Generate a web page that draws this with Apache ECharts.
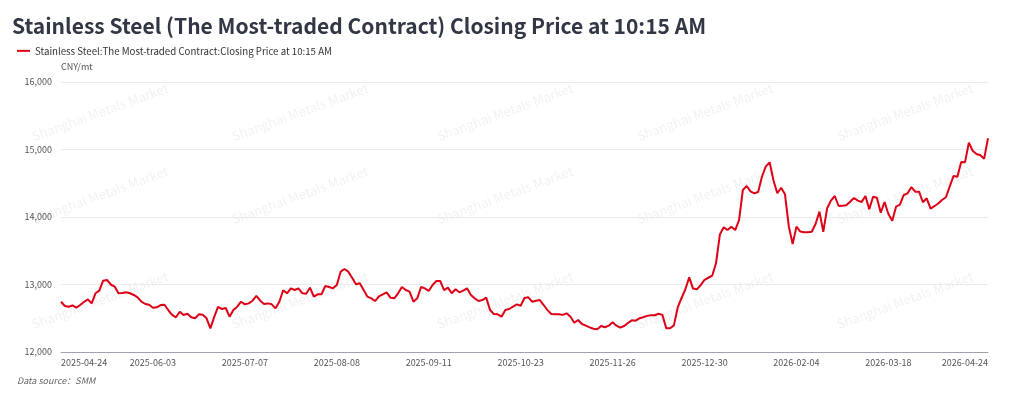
<!DOCTYPE html>
<html>
<head>
<meta charset="utf-8">
<title>Stainless Steel Closing Price</title>
<script src="https://cdn.jsdelivr.net/npm/echarts@6/dist/echarts.min.js"></script>
<style>
  html, body { margin: 0; padding: 0; background: #fff; }
  #main { width: 1024px; height: 399px; }
</style>
</head>
<body>
<div id="main"></div>
<script>
var FONT = '"Noto Sans CJK SC", "Noto Sans", sans-serif';

var titleText = 'Stainless Steel (The Most-traded Contract) Closing Price at 10:15 AM';
var seriesName = 'Stainless Steel:The Most-traded Contract:Closing Price at 10:15 AM';
var unitName = 'CNY/mt';
var sourceText = 'Data source\uff1aSMM';

// trading days between these dates, weekends and exchange holidays skipped
var startDay = '2025-04-24';
var endDay = '2026-04-24';
var holidays = [
  '2025-05-01', '2025-05-02', '2025-05-05', '2025-06-02',
  '2025-10-01', '2025-10-02', '2025-10-03', '2025-10-06', '2025-10-07', '2025-10-08',
  '2026-01-01', '2026-01-02',
  '2026-02-16', '2026-02-17', '2026-02-18', '2026-02-19', '2026-02-20', '2026-02-23',
  '2026-04-06'
];

// closing price, one per trading day
var prices = [
  12745, 12681, 12670, 12690, 12656, 12696, 12740, 12780, 12720, 12870,
  12910, 13056, 13067, 13000, 12970, 12870, 12874, 12885, 12870, 12845,
  12810, 12745, 12711, 12700, 12656, 12662, 12696, 12700, 12622, 12550,
  12514, 12597, 12548, 12567, 12514, 12499, 12558, 12553, 12499, 12351,
  12520, 12667, 12637, 12652, 12523, 12622, 12671, 12745, 12706, 12720,
  12760, 12830, 12760, 12711, 12720, 12706, 12647, 12745, 12914, 12870,
  12943, 12918, 12943, 12870, 12864, 12953, 12820, 12854, 12854, 12978,
  12963, 12943, 12993, 13190, 13230, 13190, 13101, 13003, 13018, 12918,
  12820, 12795, 12755, 12825, 12854, 12884, 12805, 12795, 12870, 12963,
  12918, 12894, 12745, 12795, 12963, 12943, 12904, 12993, 13052, 13052,
  12918, 12953, 12870, 12929, 12884, 12910, 12943, 12844, 12795, 12755,
  12770, 12805, 12622, 12563, 12558, 12523, 12622, 12637, 12671, 12706,
  12686, 12800, 12810, 12745, 12760, 12770, 12696, 12620, 12563, 12560,
  12558, 12550, 12573, 12523, 12434, 12474, 12415, 12390, 12365, 12345,
  12336, 12385, 12366, 12390, 12440, 12390, 12360, 12385, 12430, 12469,
  12464, 12499, 12515, 12535, 12545, 12545, 12567, 12550, 12351, 12351,
  12395, 12660, 12800, 12930, 13105, 12940, 12930, 12990, 13070, 13100,
  13130, 13314, 13740, 13847, 13807, 13855, 13807, 13950, 14400, 14459,
  14380, 14351, 14370, 14600, 14750, 14810, 14540, 14351, 14434, 14336,
  13860, 13600, 13857, 13785, 13775, 13775, 13782, 13900, 14079, 13782,
  14129, 14242, 14311, 14163, 14168, 14173, 14227, 14282, 14242, 14222,
  14311, 14114, 14301, 14286, 14064, 14222, 14045, 13945, 14153, 14183,
  14326, 14351, 14444, 14375, 14375, 14218, 14277, 14123, 14160, 14200,
  14252, 14292, 14449, 14607, 14597, 14815, 14810, 15101, 14982, 14933,
  14914, 14864, 15166
];

var yMin = 12000, yMax = 16000, yStep = 1000;

// watermark spots (centre x, centre y)
var markX = [100, 300, 505, 705, 905];
var markY = [112, 195, 300];

function buildDays(from, to, skip){
  var out = [];
  var d = new Date(from + 'T00:00:00Z');
  var end = new Date(to + 'T00:00:00Z');
  while(d <= end){
    var s = d.toISOString().slice(0, 10);
    var wd = d.getUTCDay();
    if(wd != 0 && wd != 6 && skip.indexOf(s) < 0){
      out.push(s);
    }
    d.setUTCDate(d.getUTCDate() + 1);
  }
  return out;
}

var days = buildDays(startDay, endDay, holidays);

function buildMarks(){
  var list = [];
  for(var r = 0; r < markY.length; r++){
    for(var c = 0; c < markX.length; c++){
      list.push({
        type: 'text',
        x: markX[c], y: markY[r],
        rotation: 20 * Math.PI / 180,
        z: 0,
        silent: true,
        style: {
          text: 'Shanghai Metals Market',
          font: '13px ' + FONT,
          fill: 'rgba(0,0,0,0.06)',
          align: 'center',
          verticalAlign: 'middle'
        }
      });
    }
  }
  list.push({
    type: 'text', left: 17, top: 376,
    style: { text: sourceText, font: 'italic 9px ' + FONT, fill: '#666' }
  });
  return list;
}

var chart = echarts.init(document.getElementById('main'));
var option = {
  backgroundColor: '#fff',
  animation: false,
  title: {
    text: titleText,
    left: 12, top: 16, padding: 0,
    textStyle: { fontFamily: FONT, fontSize: 21, fontWeight: 'bold', color: '#313744' }
  },
  legend: {
    left: 17, top: 46, padding: 0,
    icon: 'rect', itemWidth: 13, itemHeight: 2,
    textStyle: { fontFamily: FONT, fontSize: 9.7, color: '#333' },
    data: [seriesName]
  },
  grid: { left: 61, right: 36, top: 82, bottom: 47, containLabel: false },
  xAxis: {
    type: 'category',
    data: days,
    boundaryGap: false,
    axisLine: { lineStyle: { color: '#9ea3ad' } },
    axisTick: { show: false },
    axisLabel: {
      interval: 23, showMaxLabel: true, alignMinLabel: 'left', alignMaxLabel: 'right',
      margin: 6, fontFamily: FONT, fontSize: 9, color: '#555'
    }
  },
  yAxis: {
    type: 'value',
    min: yMin, max: yMax, interval: yStep,
    name: unitName,
    nameGap: 11,
    nameTextStyle: { fontFamily: FONT, fontSize: 9, color: '#555', align: 'left' },
    axisLine: { show: false },
    axisTick: { show: false },
    splitLine: { lineStyle: { color: '#ebebeb' } },
    axisLabel: {
      margin: 9, fontFamily: FONT, fontSize: 9, color: '#555',
      formatter: function(v){ return v.toLocaleString('en-US'); }
    }
  },
  graphic: buildMarks(),
  series: [{
    name: seriesName,
    type: 'line',
    data: prices,
    showSymbol: false,
    symbol: 'none',
    z: 3,
    lineStyle: { color: '#dd0016', width: 2 },
    itemStyle: { color: '#dd0016' }
  }]
};
chart.setOption(option);
</script>
</body>
</html>
